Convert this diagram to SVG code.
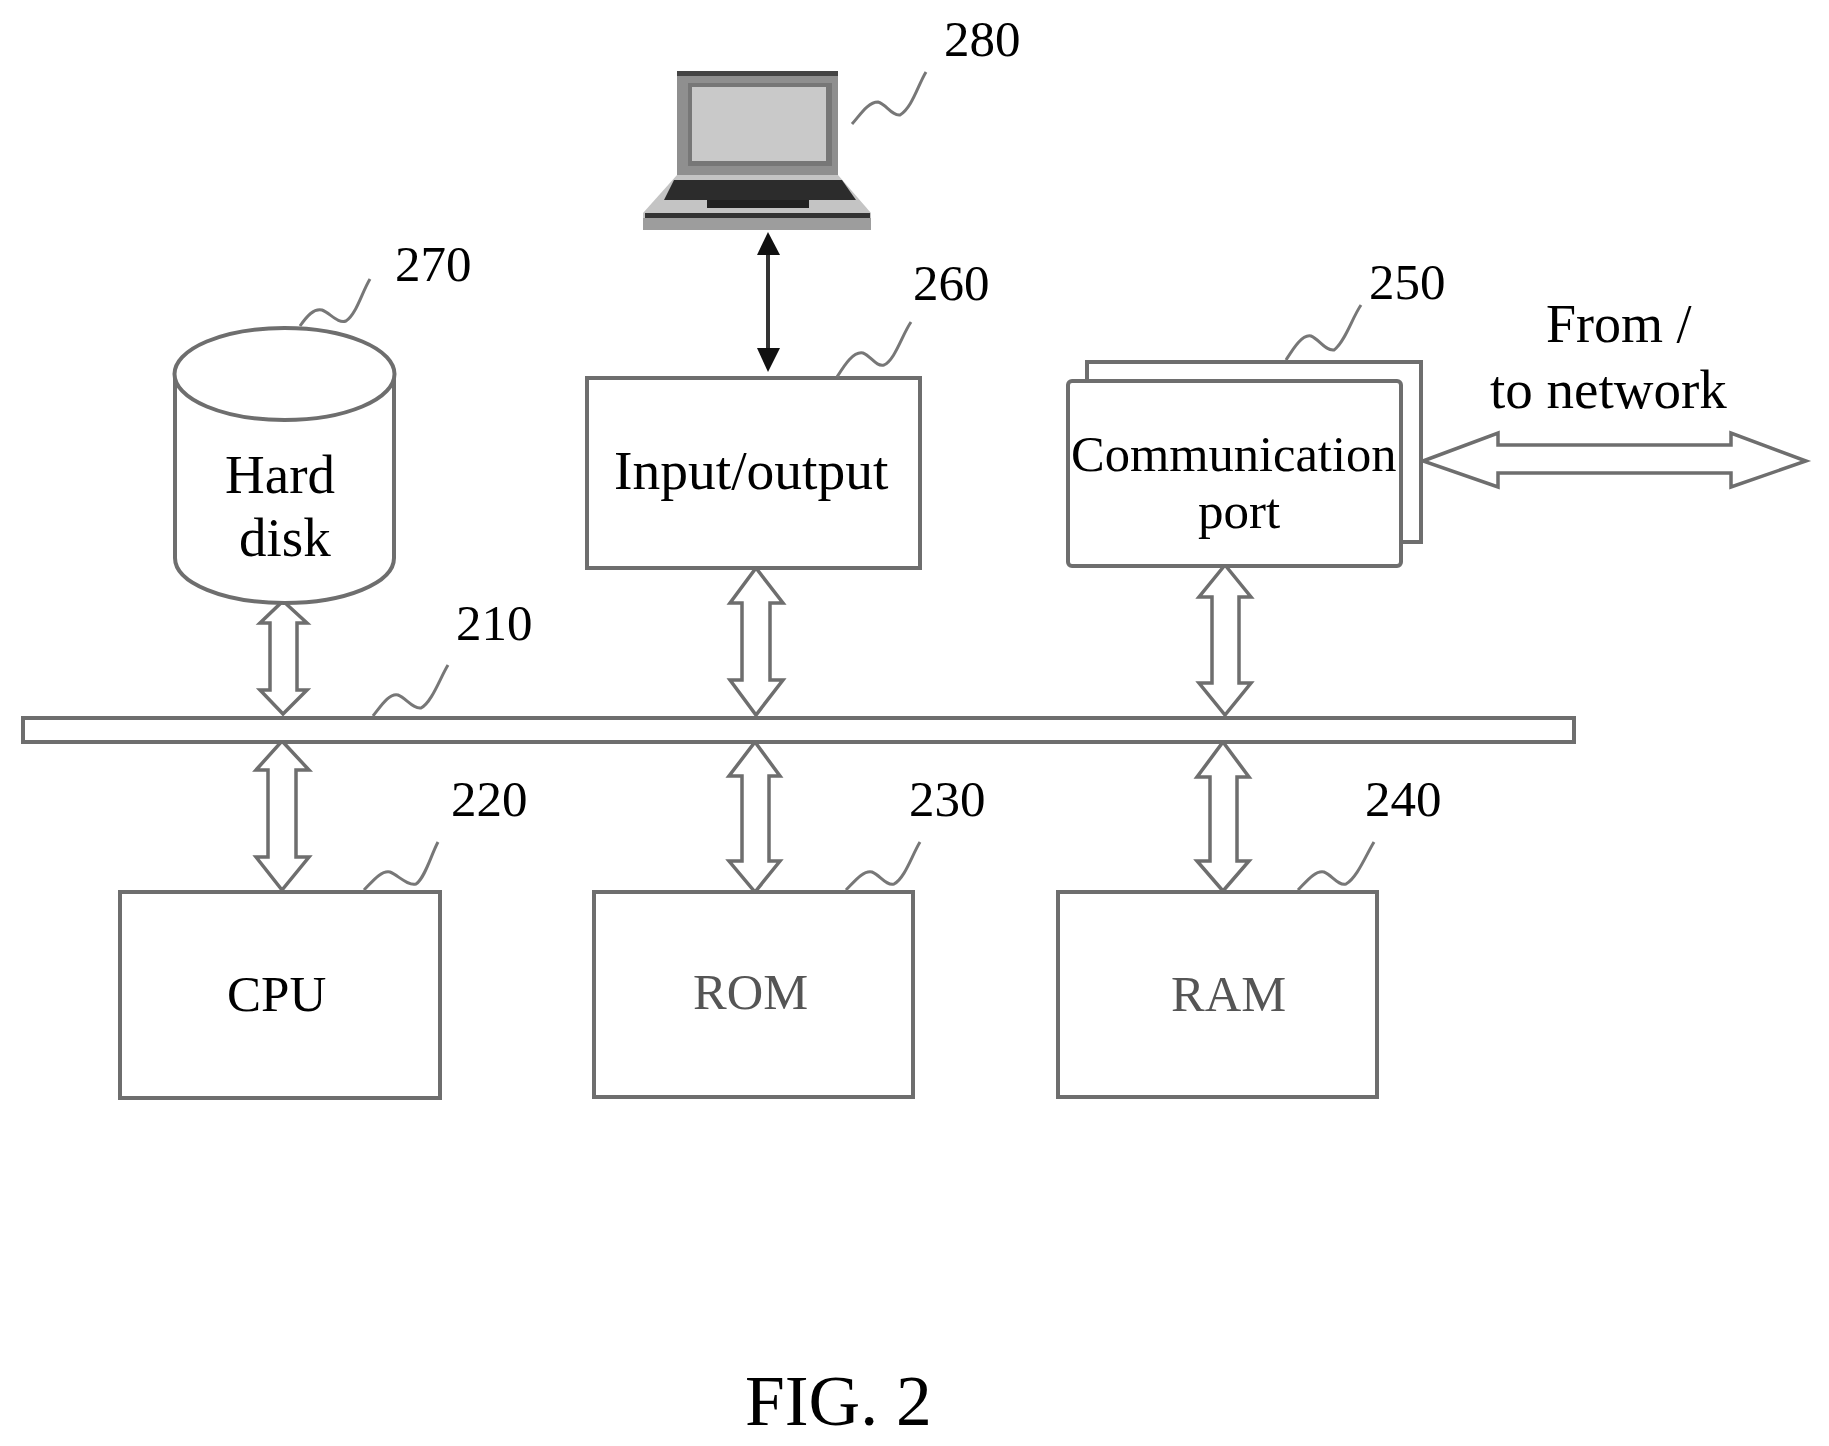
<svg xmlns="http://www.w3.org/2000/svg" width="1829" height="1446" viewBox="0 0 1829 1446">
<style>
text{font-family:"Liberation Serif","Times New Roman",serif;fill:#000;text-anchor:start}
.n{font-size:51px}
.b{fill:#fff;stroke:#6e6e6e;stroke-width:4}
.dark{stroke:#444}
.a{fill:#fff;stroke:#6e6e6e;stroke-width:3.5;stroke-linejoin:miter}
.s{fill:none;stroke:#777;stroke-width:3}
.g{fill:#6a6a6a;stroke:#bbb;stroke-width:1}
</style>
<defs>
<pattern id="d1" width="3" height="3" patternUnits="userSpaceOnUse"><rect width="3" height="3" fill="#fff"/><rect width="1.5" height="1.5" fill="#000"/><rect x="1.5" y="1.5" width="1.5" height="1.5" fill="#000"/></pattern>
<pattern id="d2" width="4" height="4" patternUnits="userSpaceOnUse"><rect width="4" height="4" fill="#fff"/><rect width="2" height="2" fill="#555"/></pattern>
</defs>
<g id="connectors">
<path id="c-laptop-io" d="M768 250V354" fill="none" stroke="#333" stroke-width="4"/>
<path d="M768 232L780 255H757Z" fill="#111"/>
<path d="M768 372L780 348H757Z" fill="#111"/>
<path id="c-disk-bus" class="a" d="M283 601L307 623H297V690H307L283 714L260 690H270V623H260Z"/>
<path id="c-cpu-bus" class="a" d="M282 741L309 770H296V857H309L282 890L256 857H268V770H256Z"/>
<path id="c-io-bus" class="a" d="M756 568L783 603H770V680H783L756 715L730 680H742V603H730Z"/>
<path id="c-rom-bus" class="a" d="M755 742L780 776H769V861H780L755 892L729 861H742V776H729Z"/>
<path id="c-comm-bus" class="a" d="M1225 565L1251 597H1239V683H1251L1225 715L1199 683H1212V597H1199Z"/>
<path id="c-ram-bus" class="a" d="M1223 742L1249 777H1237V861H1249L1223 891L1197 861H1210V777H1197Z"/>
<path id="c-comm-net" class="a" d="M1423 461L1498 433V445H1731V433L1806 461L1731 487V473H1498V487Z"/>
</g>
<g id="bus-210"><rect class="b" x="23" y="718" width="1551" height="24"/></g>
<g id="laptop-280">
<rect x="677" y="71" width="161" height="106" fill="#8f8f8f"/>
<rect x="677" y="71" width="161" height="5" fill="#444"/>
<rect x="688" y="83" width="144" height="83" fill="#777"/>
<rect x="692" y="87" width="134" height="74" fill="#c9c9c9"/>
<path d="M677 175H838L871 213V230H643V213Z" fill="#c4c4c4"/>
<path d="M674 180H842L856 200H664Z" fill="#2c2c2c"/>
<rect x="707" y="200" width="102" height="8" fill="#222"/>
<rect x="645" y="213" width="225" height="5" fill="#333"/>
<rect x="643" y="218" width="228" height="12" fill="#9d9d9d"/>
</g>
<g id="disk-270">
<path class="b" d="M175 374V558C175 583 224 603 284.500 603C345 603 394 583 394 558V374Z"/>
<ellipse class="b" cx="284.500" cy="374" rx="110" ry="46"/>
<path class="s" d="M300 326C307 316 314 308 322 310C330 313 338 324 346 321C356 315 362 292 370 279"/>
<text x="225" y="493" style="font-size:55px">Hard</text>
<text x="239" y="556" style="font-size:55px">disk</text>
</g>
<g id="io-260">
<rect class="b" x="587" y="378" width="333" height="190"/>
<path class="s" d="M837 377C844 366 853 351 863 353C871 356 876 367 884 365C895 360 902 335 911 322"/>
<text x="614" y="489" style="font-size:55.500px">Input/output</text>
</g>
<g id="comm-250">
<rect class="b" x="1087" y="362" width="334" height="180"/>
<rect class="b" x="1068" y="381" width="333" height="185" rx="4"/>
<path class="s" d="M1286 360C1293 349 1302 334 1311 336C1319 339 1325 351 1334 350C1345 342 1352 318 1361 305"/>
<text x="1071" y="471" style="font-size:50.500px">Communication</text>
<text x="1198" y="528" style="font-size:51px">port</text>
</g>
<g id="cpu-220">
<rect class="b" x="120" y="892" width="320" height="206"/>
<path class="s" d="M364 890C372 882 381 870 390 872C398 875 407 886 416 884C425 878 431 855 438 842"/>
<text x="227" y="1011" style="font-size:51px">CPU</text>
</g>
<g id="rom-230">
<rect class="b" x="594" y="892" width="319" height="205"/>
<path class="s" d="M846 890C854 882 863 870 872 872C880 875 886 886 894 884C905 878 912 855 920 842"/>
<text x="693" y="1009" style="font-size:50.500px;fill:#555">ROM</text>
</g>
<g id="ram-240">
<rect class="b" x="1058" y="892" width="319" height="205"/>
<path class="s" d="M1298 890C1306 882 1315 870 1324 872C1332 875 1338 886 1346 884C1357 878 1366 855 1374 842"/>
<text x="1171" y="1011" style="font-size:50.500px;fill:#555">RAM</text>
</g>
<g id="labels">
<path class="s" d="M852 124C860 115 868 102 878 102C886 104 892 116 900 115C912 108 918 85 926 72"/>
<path class="s" d="M373 716C381 706 389 693 398 695C406 698 413 709 421 708C432 702 440 678 448 665"/>
<text class="n" x="944" y="56">280</text>
<text class="n" x="395" y="281">270</text>
<text class="n" x="913" y="300">260</text>
<text class="n" x="1369" y="299">250</text>
<text class="n" x="456" y="640">210</text>
<text class="n" x="451" y="816">220</text>
<text class="n" x="909" y="816">230</text>
<text class="n" x="1365" y="816">240</text>
<text x="1546" y="342" style="font-size:54px">From /</text>
<text x="1490" y="408" style="font-size:55px">to network</text>
<text x="745" y="1425" style="font-size:71.500px">FIG. 2</text>
</g>
</svg>
